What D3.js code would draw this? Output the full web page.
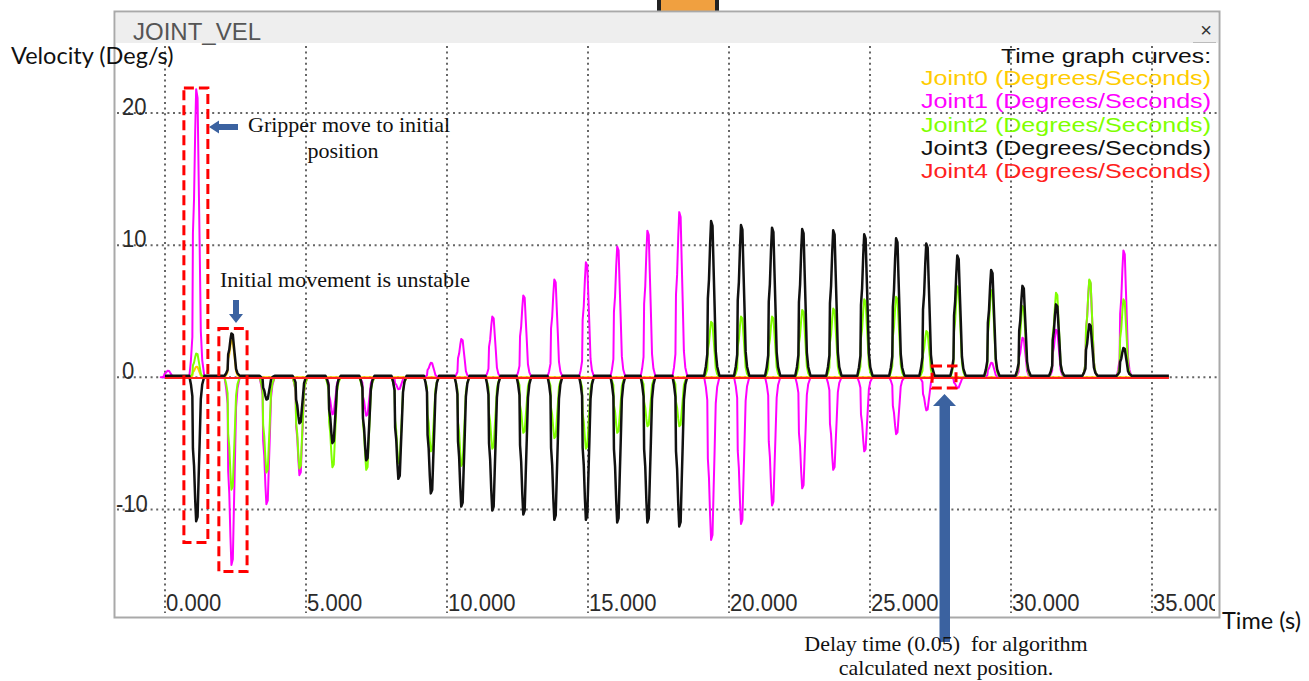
<!DOCTYPE html>
<html>
<head>
<meta charset="utf-8">
<script src="https://cdn.jsdelivr.net/npm/d3@7"></script>
<style>
  body { margin: 0; background: #fff; }
  svg { display: block; }
</style>
</head>
<body>
<svg id="chart" width="1309" height="681"></svg>
<script>
// joint names and colours, in legend order
var jointNames = ["Joint0", "Joint1", "Joint2", "Joint3", "Joint4"];
var jointColors = ["#ffcc00", "#ff00ff", "#80ff00", "#111111", "#ff2020"];

// centre time (s) of every motion pulse
var pulseTimes = [0.12, 1.13, 2.38, 3.62, 4.79, 5.96, 7.16, 8.30, 9.45, 10.53,
  11.63, 12.73, 13.83, 14.95, 16.06, 17.13, 18.26, 19.39, 20.45, 21.55,
  22.62, 23.72, 24.82, 25.95, 27.02, 28.12, 29.32, 30.43, 31.62, 32.80, 34.01];

// peak velocity (deg/s) of each joint in each pulse
var joint0Peaks = [0, 0.8, 2.8, 0, 0, 0, 0, 0, 0, 0,
  0, 0, 0, 0, 0, 0, 0, 0, 0, 0,
  0, 0, 0, 0, 0, 0, 0, 0, 0, 0, 0];
var joint1Peaks = [0.5, 21.8, -14.2, -9.6, -7.4, -2.8, -2.9, -0.9, 1.1, 2.9,
  4.6, 6.2, 7.4, 8.7, 9.9, 11.1, 12.5, -12.3, -11.1, -9.7,
  -8.4, -7.0, -5.6, -4.3, -2.5, -0.8, 1.1, 3.0, 3.6, 7.3, 9.6];
var joint2Peaks = [0, 1.8, -8.5, -7.2, -6.9, -6.8, -7.0, -6.5, -5.6, -6.7,
  -5.4, -4.2, -4.6, -5.4, -4.2, -3.7, -3.7, 4.2, 4.6, 4.6,
  5.1, 5.2, 5.9, 6.1, 3.5, 6.9, 6.6, 5.4, 6.4, 7.4, 5.9];
var joint3Peaks = [0, -11.0, 3.2, -1.8, -3.6, -5.1, -6.4, -7.8, -8.9, -9.9,
  -10.2, -10.5, -10.9, -10.9, -11.1, -11.1, -11.4, 11.7, 11.4, 11.2,
  11.1, 11.0, 10.7, 10.4, 10.0, 9.1, 8.0, 6.8, 5.4, 3.9, 2.1];
var joint4Peaks = [0, 0, 0, 0, 0, 0, 0, 0, 0, 0,
  0, 0, 0, 0, 0, 0, 0, 0, 0, 0,
  0, 0, 0, 0, 0, 0, 0, 0, 0, 0, 0];
var jointRest = [0, 0, 0, 0.12, -0.05];

// sampled shape of one pulse: time offset (s) and share of the peak
var pulseOffsets = [-0.27, -0.21, -0.16, -0.14, -0.1, -0.06, -0.025, 0.025, 0.06, 0.1, 0.14, 0.19, 0.27];
var pulseShape = [0, 0.06, 0.14, 0.5, 0.62, 0.85, 1, 0.97, 0.72, 0.45, 0.16, 0.06, 0];
var endTime = 35.6;

var xTicks = [0, 5, 10, 15, 20, 25, 30, 35];
var yTicks = [-10, 0, 10, 20];
var legendTitle = "Time graph curves:";
var legendUnit = " (Degrees/Seconds)";

var allPeaks = [joint0Peaks, joint1Peaks, joint2Peaks, joint3Peaks, joint4Peaks];

var svg = d3.select("#chart");
var x = d3.scaleLinear().domain([0, 35]).range([165, 1152]);
var y = d3.scaleLinear().domain([-10, 20]).range([509.5, 113]);

function buildSeries(peaks, rest) {
  var pts = [[0, rest]];
  peaks.forEach(function(p, i) {
    if (!p) return;
    pulseOffsets.forEach(function(o, k) {
      pts.push([pulseTimes[i] + o, rest + p * pulseShape[k]]);
    });
  });
  pts.push([endTime, rest]);
  return pts;
}

// window frame
svg.append("rect").attr("x", 660).attr("y", 0).attr("width", 56).attr("height", 11).attr("fill", "#f0a040");
svg.append("rect").attr("x", 657).attr("y", 0).attr("width", 4).attr("height", 11).attr("fill", "#222");
svg.append("rect").attr("x", 715).attr("y", 0).attr("width", 4).attr("height", 11).attr("fill", "#222");
svg.append("rect").attr("x", 114.5).attr("y", 11.5).attr("width", 1105).attr("height", 606)
  .attr("fill", "#fff").attr("stroke", "#a9a9a9").attr("stroke-width", 2);
svg.append("rect").attr("x", 116).attr("y", 13).attr("width", 1102).attr("height", 30).attr("fill", "#eeeeee");
svg.append("text").attr("x", 133).attr("y", 40).attr("font-family", "Liberation Sans, Arial, sans-serif")
  .attr("font-size", 24).attr("fill", "#555").text("JOINT_VEL");
svg.append("text").attr("x", 1206).attr("y", 37).attr("text-anchor", "middle")
  .attr("font-family", "Liberation Sans, Arial, sans-serif").attr("font-size", 20).attr("fill", "#333").text("\u00d7");
svg.append("line").attr("x1", 1193).attr("x2", 1216).attr("y1", 42.5).attr("y2", 42.5).attr("stroke", "#bbb");

var defs = svg.append("defs");
defs.append("clipPath").attr("id", "plotClip").append("rect")
  .attr("x", 116).attr("y", 43).attr("width", 1099).attr("height", 574);

// dotted grid
var grid = svg.append("g").attr("stroke", "#666").attr("stroke-width", 2).attr("stroke-dasharray", "2,3.6");
grid.selectAll(".vg").data(xTicks).enter().append("line")
  .attr("x1", function(d) { return x(d); }).attr("x2", function(d) { return x(d); })
  .attr("y1", 46).attr("y2", 613);
grid.selectAll(".hg").data(yTicks).enter().append("line")
  .attr("x1", 117).attr("x2", 1217)
  .attr("y1", function(d) { return y(d); }).attr("y2", function(d) { return y(d); });

// tick labels
var tickFont = "Liberation Sans, Arial, sans-serif";
var xl = svg.append("g").attr("clip-path", "url(#plotClip)");
xl.selectAll("text").data(xTicks).enter().append("text")
  .attr("transform", function(d) { return "translate(" + (x(d) + 1) + ",611) scale(0.92,1)"; })
  .attr("font-family", tickFont).attr("font-size", 24).attr("fill", "#2b2b2b")
  .text(function(d) { return d.toFixed(3); });
svg.append("g").selectAll("text").data(yTicks).enter().append("text")
  .attr("transform", function(d) { return "translate(" + (d < 0 ? 116 : 122) + "," + (y(d) + 2) + ") scale(0.92,1)"; })
  .attr("font-family", tickFont).attr("font-size", 24).attr("fill", "#2b2b2b")
  .text(function(d) { return String(d); });

// curves
var line = d3.line()
  .x(function(d) { return x(d[0]); })
  .y(function(d) { return y(d[1]); });
var curves = svg.append("g").attr("clip-path", "url(#plotClip)").attr("fill", "none");
allPeaks.forEach(function(peaks, j) {
  curves.append("path")
    .attr("d", line(buildSeries(peaks, jointRest[j])))
    .attr("stroke", jointColors[j])
    .attr("stroke-width", j === 3 ? 2.5 : 2)
    .attr("stroke-linejoin", "round");
});

// legend
var legendFont = "Liberation Sans, Arial, sans-serif";
svg.append("text").attr("x", 1211).attr("y", 63).attr("text-anchor", "end")
  .attr("font-family", legendFont).attr("font-size", 21).attr("fill", "#111")
  .attr("textLength", 210).attr("lengthAdjust", "spacingAndGlyphs").text(legendTitle);
svg.append("g").selectAll("text").data(jointNames).enter().append("text")
  .attr("x", 1211).attr("y", function(d, i) { return 85 + i * 23.3; })
  .attr("text-anchor", "end").attr("font-family", legendFont).attr("font-size", 21)
  .attr("textLength", 290).attr("lengthAdjust", "spacingAndGlyphs")
  .attr("fill", function(d, i) { return jointColors[i]; })
  .text(function(d) { return d + legendUnit; });

// axis titles
svg.append("text").attr("x", 11).attr("y", 64).attr("font-family", "Lato, Open Sans, sans-serif")
  .attr("font-size", 23.5).attr("fill", "#111").text("Velocity (Deg/s)");
svg.append("text").attr("x", 1222).attr("y", 629).attr("font-family", "Lato, Open Sans, sans-serif")
  .attr("font-size", 23.5).attr("fill", "#111").text("Time (s)");

// annotations: red dashed boxes around the marked regions
var boxes = [
  { t0: 0.67, t1: 1.52, v0: -12.5, v1: 21.9 },
  { t0: 1.91, t1: 2.91, v0: -14.7, v1: 3.7 },
  { t0: 27.2, t1: 28.05, v0: -0.8, v1: 0.85 }
];
svg.append("g").selectAll("rect").data(boxes).enter().append("rect")
  .attr("x", function(d) { return x(d.t0); }).attr("y", function(d) { return y(d.v1); })
  .attr("width", function(d) { return x(d.t1) - x(d.t0); })
  .attr("height", function(d) { return y(d.v0) - y(d.v1); })
  .attr("fill", "none").attr("stroke", "#ff0000").attr("stroke-width", 3).attr("stroke-dasharray", "10,5");

var arrowFill = "#3b62a0";
svg.append("path").attr("d", "M209,127 L219,120.5 L219,124 L238,124 L238,130 L219,130 L219,133.5 Z").attr("fill", arrowFill);
svg.append("path").attr("d", "M233,300 L239,300 L239,314 L243,314 L236,323 L229,314 L233,314 Z").attr("fill", arrowFill);
svg.append("path").attr("d", "M939.5,642 L939.5,406 L933,406 L944.5,394 L956,406 L950,406 L950,642 Z").attr("fill", arrowFill);

var noteFont = "Liberation Serif, Times New Roman, serif";
var notes = [
  { x: 248, y: 132, anchor: "start", text: "Gripper move to initial" },
  { x: 343, y: 158, anchor: "middle", text: "position" },
  { x: 220, y: 287, anchor: "start", text: "Initial movement is unstable" },
  { x: 946, y: 651, anchor: "middle", text: "Delay time (0.05)  for algorithm" },
  { x: 946, y: 675, anchor: "middle", text: "calculated next position." }
];
svg.append("g").selectAll("text").data(notes).enter().append("text")
  .attr("x", function(d) { return d.x; }).attr("y", function(d) { return d.y; })
  .attr("text-anchor", function(d) { return d.anchor; })
  .attr("font-family", noteFont).attr("font-size", 22).attr("fill", "#111")
  .attr("xml:space", "preserve").style("white-space", "pre")
  .text(function(d) { return d.text; });
</script>
</body>
</html>
